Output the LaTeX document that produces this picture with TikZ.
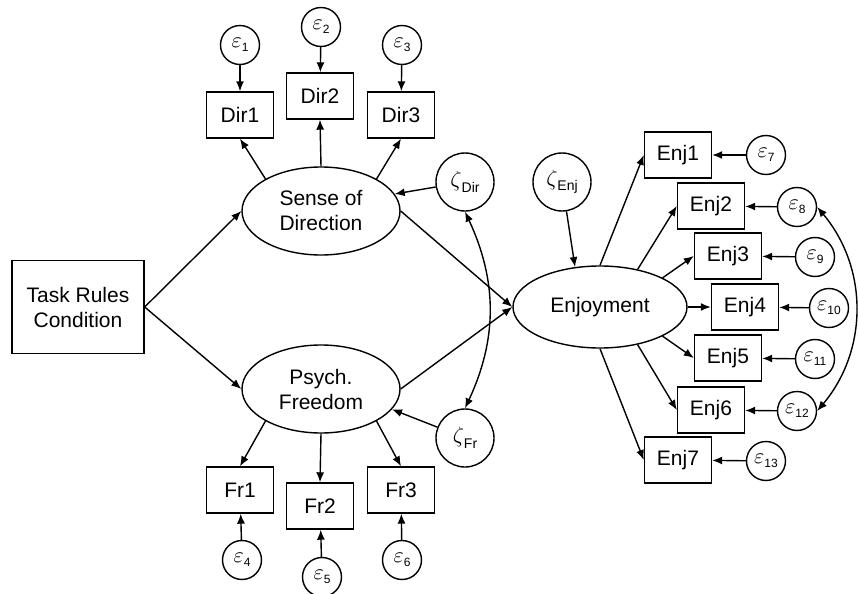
\documentclass[tikz,border=0pt]{standalone}
\usepackage{fontspec}
\setmainfont{Liberation Sans}
\usepackage{tikz}
\usetikzlibrary{shapes.geometric}
\usetikzlibrary{arrows.meta}

\newcommand{\errlab}[1]{$\varepsilon$\raisebox{-0.35ex}{\fontsize{6}{6}\selectfont #1}}
\newcommand{\distlab}[1]{$\zeta$\raisebox{-0.45ex}{\fontsize{7}{7}\selectfont #1}}

\begin{document}
\begin{tikzpicture}[x=0.5pt, y=-0.5pt, line width=0.7pt]
			\tikzstyle{ObsStyle}  = [draw, rectangle, minimum width=33.5pt, minimum height=23pt, inner sep=1pt, align=center, font=\fontsize{10.5}{12.5}\selectfont]
			\tikzstyle{LatStyle}  = [draw, ellipse, minimum width=79pt, minimum height=44pt, inner sep=0pt, align=center, font=\fontsize{10.5}{12.5}\selectfont]
			\tikzstyle{ErrStyle}  = [draw, circle, minimum size=19.5pt, inner sep=0pt, font=\fontsize{11}{11}\selectfont]
			\tikzstyle{DistStyle} = [draw, circle, minimum size=29pt, inner sep=0pt, font=\fontsize{11}{11}\selectfont]
			\tikzstyle{EdgeStyle} = [-{Latex[length=5pt,width=4pt]}]
			\tikzstyle{CovStyle}  = [{Latex[length=5pt,width=4pt]}-{Latex[length=5pt,width=4pt]}]
			\useasboundingbox (0,0) rectangle (858,594);
			%\draw[help lines] (0,0) grid[step=50] (858,594);
			\node[ObsStyle, minimum width=66pt, minimum height=46.5pt] (task) at (78,307) {Task Rules\\Condition};
			\node[LatStyle] (dir) at (321,211) {Sense of\\Direction};
			\node[LatStyle] (fr) at (321,389) {Psych.\\Freedom};
			\node[LatStyle, minimum width=87pt, minimum height=41pt] (enj) at (600,307) {Enjoyment};
			
			\node[ObsStyle] (dir1) at (240,115) {Dir1} ; \node[ObsStyle] (dir2) at (320,96) {Dir2} ; \node[ObsStyle] (dir3) at (401,115) {Dir3};
			\node[ErrStyle] (e1) at (240,45) {\errlab{1}} ; \node[ErrStyle] (e2) at (321,27) {\errlab{2}} ; \node[ErrStyle] (e3) at (402,45) {\errlab{3}};
			\node[ObsStyle] (fr1) at (240,490) {Fr1} ; \node[ObsStyle] (fr2) at (320,506) {Fr2} ; \node[ObsStyle] (fr3) at (401,490) {Fr3};
			\node[ErrStyle] (e4) at (242,560) {\errlab{4}} ; \node[ErrStyle] (e5) at (322,577) {\errlab{5}} ; \node[ErrStyle] (e6) at (402,560) {\errlab{6}};
			
			\node[DistStyle] (zdir) at (465,182) {\distlab{Dir}};
			\node[DistStyle] (zfr) at (465,438) {\distlab{Fr}};
			\node[DistStyle] (zenj) at (562,182) {\distlab{Enj}};
			
			\node[ObsStyle] (enj1) at (678,155) {Enj1} ; \node[ErrStyle] (e7) at (766,155) {\errlab{7}};
			\node[ObsStyle] (enj2) at (711,206) {Enj2} ; \node[ErrStyle] (e8) at (797,207) {\errlab{8}};
			\node[ObsStyle] (enj3) at (728,256) {Enj3} ; \node[ErrStyle] (e9) at (815,257) {\errlab{9}};
			\node[ObsStyle] (enj4) at (745,307) {Enj4} ; \node[ErrStyle] (e10) at (829,308) {\errlab{10}};
			\node[ObsStyle] (enj5) at (728,358) {Enj5} ; \node[ErrStyle] (e11) at (815,359) {\errlab{11}};
			\node[ObsStyle] (enj6) at (711,410) {Enj6} ; \node[ErrStyle] (e12) at (797,411) {\errlab{12}};
			\node[ObsStyle] (enj7) at (678,460) {Enj7} ; \node[ErrStyle] (e13) at (766,461) {\errlab{13}};
			
			\draw[EdgeStyle] (task.east) -- (dir.west); \draw[EdgeStyle] (task.east) -- (fr.west);
			\draw[EdgeStyle] (dir.east) -- (enj.west); \draw[EdgeStyle] (fr.east) -- (enj.west);
			\draw[EdgeStyle] (dir.150) -- (dir1.south); \draw[EdgeStyle] (dir.north) -- (dir2.south); \draw[EdgeStyle] (dir.30) -- (dir3.south);
			\draw[EdgeStyle] (e1) -- (dir1); \draw[EdgeStyle] (e2) -- (dir2); \draw[EdgeStyle] (e3) -- (dir3);
			\draw[EdgeStyle] (fr.210) -- (fr1.north); \draw[EdgeStyle] (fr.south) -- (fr2.north); \draw[EdgeStyle] (fr.330) -- (fr3.north);
			\draw[EdgeStyle] (e4) -- (fr1); \draw[EdgeStyle] (e5) -- (fr2); \draw[EdgeStyle] (e6) -- (fr3);
			\draw[EdgeStyle] (zdir) -- (dir.13); \draw[EdgeStyle] (zfr) -- (fr.344); \draw[EdgeStyle] (zenj) -- (enj.122);
			\draw[CovStyle] (zdir.south) to[bend left=25] (zfr.north);
			
			\draw[EdgeStyle] (enj.north) -- (enj1.west); \draw[EdgeStyle] (enj.45) -- (enj2.west); \draw[EdgeStyle] (enj.25) -- (enj3.west);
			\draw[EdgeStyle] (enj.east) -- (enj4.west);
			\draw[EdgeStyle] (enj.335) -- (enj5.west); \draw[EdgeStyle] (enj.315) -- (enj6.west); \draw[EdgeStyle] (enj.south) -- (enj7.west);
			\draw[EdgeStyle] (e7) -- (enj1); \draw[EdgeStyle] (e8) -- (enj2); \draw[EdgeStyle] (e9) -- (enj3); \draw[EdgeStyle] (e10) -- (enj4);
			\draw[EdgeStyle] (e11) -- (enj5); \draw[EdgeStyle] (e12) -- (enj6); \draw[EdgeStyle] (e13) -- (enj7);
			\draw[CovStyle] (e8.east) to[bend left=40] (e12.east);
			
		\end{tikzpicture}
\end{document}
